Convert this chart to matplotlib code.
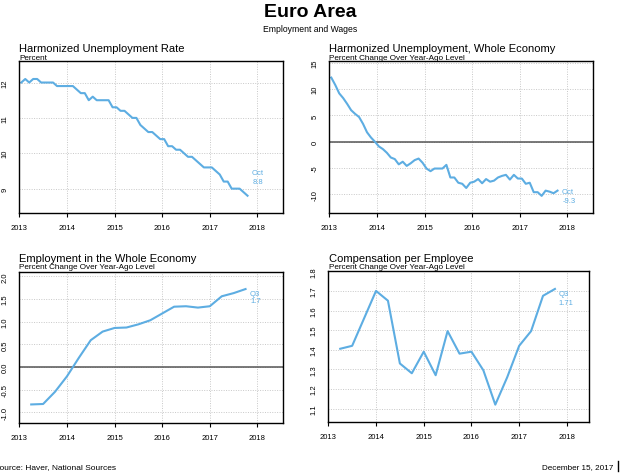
import matplotlib
matplotlib.use('Agg')
import matplotlib.pyplot as plt
from matplotlib.lines import Line2D
import numpy as np
import pandas as pd

plt.rcParams['font.family'] = ['Liberation Sans', 'DejaVu Sans']

# ---------------- data ----------------
months = pd.date_range('2013-01-01', '2017-10-01', freq='MS')
unemp_rate = [12.0, 12.1, 12.0, 12.1, 12.1, 12.0, 12.0, 12.0, 12.0, 11.9, 11.9, 11.9,
              11.9, 11.9, 11.8, 11.7, 11.7, 11.5, 11.6, 11.5, 11.5, 11.5, 11.5, 11.3,
              11.3, 11.2, 11.2, 11.1, 11.0, 11.0, 10.8, 10.7, 10.6, 10.6, 10.5, 10.4,
              10.4, 10.2, 10.2, 10.1, 10.1, 10.0, 9.9, 9.9, 9.8, 9.7, 9.6, 9.6,
              9.6, 9.5, 9.4, 9.2, 9.2, 9.0, 9.0, 9.0, 8.9, 8.8]
unemp_yoy = [12.2, 10.8, 9.2, 8.3, 7.2, 6.0, 5.3, 4.7, 3.4, 1.8, 0.8, 0.0,
             -0.9, -1.4, -2.1, -3.0, -3.3, -4.3, -3.8, -4.6, -4.1, -3.5, -3.2, -4.0,
             -5.1, -5.6, -5.1, -5.1, -5.1, -4.4, -6.8, -6.8, -7.8, -8.0, -8.8, -7.8,
             -7.6, -7.1, -7.9, -7.1, -7.6, -7.4, -6.8, -6.5, -6.3, -7.2, -6.3, -7.0,
             -7.0, -8.0, -7.8, -9.6, -9.6, -10.3, -9.3, -9.5, -9.8, -9.3]
quarters = pd.period_range('2013Q1', '2017Q3', freq='Q')
employment = [-0.83, -0.82, -0.55, -0.21, 0.20, 0.59, 0.78, 0.86, 0.87, 0.94,
              1.03, 1.18, 1.33, 1.34, 1.31, 1.34, 1.56, 1.63, 1.72]
compensation = [1.405, 1.42, 1.56, 1.70, 1.65, 1.33, 1.28, 1.39, 1.27, 1.495,
                1.38, 1.39, 1.295, 1.12, 1.26, 1.42, 1.495, 1.675, 1.71]

year_ticks = [2013, 2014, 2015, 2016, 2017, 2018]

# decimal-year positions (monthly at mid-month, quarterly at quarter end)
mx = months.year + (months.month - 0.5) / 12.0
qx = quarters.year + quarters.quarter / 4.0

BLUE = '#5DADE2'
W, H = 620, 477

fig = plt.figure(figsize=(6.2, 4.77), dpi=100)


def fx(px):
    return px / W


def fy(py):
    return 1 - py / H


def make_ax(left, top, right, bottom, xmax, ylim, yticks, yfmt):
    ax = fig.add_axes([fx(left), fy(bottom), fx(right) - fx(left), fy(top) - fy(bottom)])
    ax.set_xlim(2013, xmax)
    ax.set_ylim(*ylim)
    ax.set_xticks(year_ticks)
    ax.set_xticklabels([str(y) for y in year_ticks])
    ax.set_yticks(yticks)
    ax.set_yticklabels([yfmt.format(v) for v in yticks], rotation=90, va='center')
    ax.tick_params(axis='x', length=3, width=0.8, pad=5, labelsize=5.5, direction='out')
    ax.tick_params(axis='y', length=0, pad=7.5, labelsize=5.5)
    ax.grid(True, color='#c8c8c8', linestyle=(0, (1, 1.5)), linewidth=0.7)
    ax.set_axisbelow(True)
    for s in ax.spines.values():
        s.set_linewidth(1.0)
        s.set_color('black')
    return ax


def titles(x, y_title, y_sub, title, sub):
    fig.text(fx(x), fy(y_title), title, fontsize=8, ha='left', va='baseline')
    fig.text(fx(x), fy(y_sub), sub, fontsize=5.85, ha='left', va='baseline')


# Top-left
ax1 = make_ax(19.3, 62.3, 282.7, 213.7, 2018.53, (8.32, 12.6), [9, 10, 11, 12], '{:d}')
ax1.plot(mx, unemp_rate, color=BLUE, lw=1.5, solid_joinstyle='round')
ax1.annotate('Oct', xy=(mx[-1], unemp_rate[-1]), xytext=(3.3, 16.5), textcoords='offset points',
             color=BLUE, fontsize=5.5, ha='left', va='center')
ax1.annotate('{:.1f}'.format(unemp_rate[-1]), xy=(mx[-1], unemp_rate[-1]), xytext=(4.0, 10.3),
             textcoords='offset points', color=BLUE, fontsize=5.5, ha='left', va='center')
titles(19.3, 51.7, 60, 'Harmonized Unemployment Rate', 'Percent')

# Top-right
ax2 = make_ax(329.3, 62.3, 592.7, 213.7, 2018.53, (-13.5, 15.3), [-10, -5, 0, 5, 10, 15], '{:d}')
ax2.axhline(0, color='#555555', lw=1.1, zorder=1.5)
ax2.plot(mx, unemp_yoy, color=BLUE, lw=1.5, solid_joinstyle='round')
ax2.annotate('Oct', xy=(mx[-1], unemp_yoy[-1]), xytext=(3.2, -0.5), textcoords='offset points',
             color=BLUE, fontsize=5.5, ha='left', va='center')
ax2.annotate('{:.1f}'.format(unemp_yoy[-1]), xy=(mx[-1], unemp_yoy[-1]), xytext=(3.6, -7.3),
             textcoords='offset points', color=BLUE, fontsize=5.5, ha='left', va='center')
titles(329.3, 51.7, 60, 'Harmonized Unemployment, Whole Economy', 'Percent Change Over Year-Ago Level')

# Bottom-left
ax3 = make_ax(19.3, 273.3, 282.7, 424.0, 2018.53, (-1.24, 2.09),
              [-1.0, -0.5, 0.0, 0.5, 1.0, 1.5, 2.0], '{:.1f}')
ax3.axhline(0, color='#555555', lw=1.1, zorder=1.5)
ax3.plot(qx, employment, color=BLUE, lw=1.5, solid_joinstyle='round')
ax3.annotate('Q3', xy=(qx[-1], employment[-1]), xytext=(2.8, -3.0), textcoords='offset points',
             color=BLUE, fontsize=5.5, ha='left', va='center')
ax3.annotate('{:.1f}'.format(employment[-1]), xy=(qx[-1], employment[-1]), xytext=(3.6, -8.4),
             textcoords='offset points', color=BLUE, fontsize=5.5, ha='left', va='center')
titles(19.3, 261.7, 269.3, 'Employment in the Whole Economy', 'Percent Change Over Year-Ago Level')

# Bottom-right
ax4 = make_ax(328.3, 271.7, 589.3, 423.3, 2018.47, (1.03, 1.803),
              [1.1, 1.2, 1.3, 1.4, 1.5, 1.6, 1.7, 1.8], '{:.1f}')
ax4.plot(qx, compensation, color=BLUE, lw=1.5, solid_joinstyle='round')
ax4.annotate('Q3', xy=(qx[-1], compensation[-1]), xytext=(2.6, -3.0), textcoords='offset points',
             color=BLUE, fontsize=5.5, ha='left', va='center')
ax4.annotate('{:.2f}'.format(compensation[-1]), xy=(qx[-1], compensation[-1]), xytext=(2.6, -10.0),
             textcoords='offset points', color=BLUE, fontsize=5.5, ha='left', va='center')
titles(329.0, 261.7, 269.3, 'Compensation per Employee', 'Percent Change Over Year-Ago Level')

# Header
fig.text(0.5, fy(17), 'Euro Area', fontsize=14, fontweight='bold', ha='center', va='baseline')
fig.text(0.5, fy(31.5), 'Employment and Wages', fontsize=6.2, ha='center', va='baseline')

# Footer
fig.text(fx(-5.5), fy(469.5), 'Source: Haver, National Sources', fontsize=6, ha='left', va='baseline')
fig.text(fx(613.3), fy(469.5), 'December 15, 2017', fontsize=5.9, ha='right', va='baseline')
fig.add_artist(Line2D([fx(618.3), fx(618.3)], [fy(461.7), fy(472)], color='black', lw=1.0,
                      transform=fig.transFigure))

fig.savefig('out.png', dpi=100)
